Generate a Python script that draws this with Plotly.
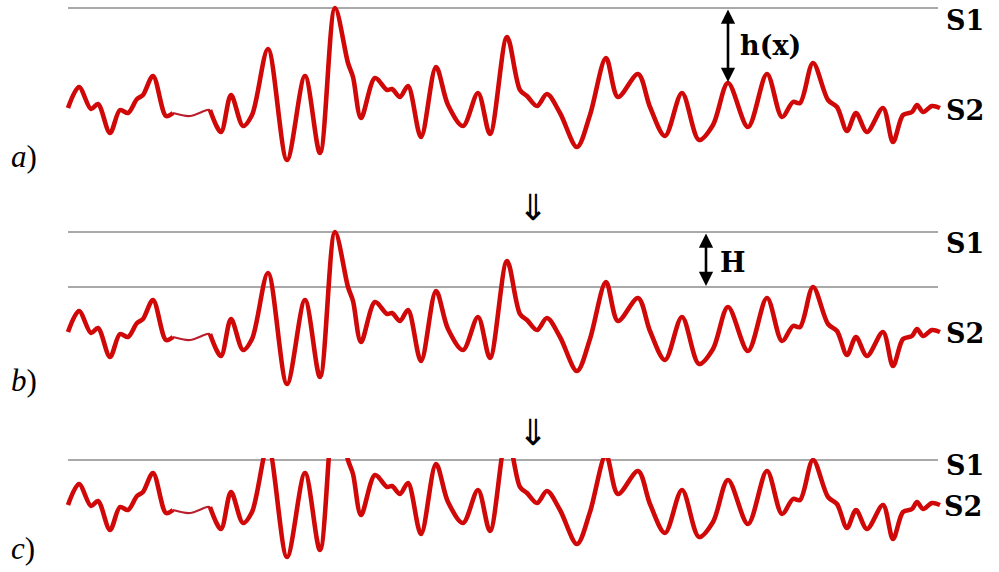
import plotly.graph_objects as go

# Surface profile: horizontal position and height above the S2 reference level
pos = [0, 11, 23, 30, 42, 52, 60, 69, 75, 85, 98, 105, 122, 139, 142, 153, 163,
       175, 184, 200, 219, 237, 252, 267, 280, 285, 293, 307, 319, 324, 332, 340,
       353, 368, 380, 395, 410, 422, 439, 452, 459, 469, 479, 492, 509, 522, 538,
       550, 570, 582, 597, 614, 631, 645, 660, 680, 699, 714, 725, 732, 745, 760,
       769, 779, 788, 799, 815, 825, 835, 844, 849, 855, 864, 872]
height = [0, 21, -1, 4, -25, -2, -5, 9, 13, 32, -8, -5, -8, -2, -2, -24, 13,
          -18, -7, 59, -52, 32, -45, 100, 45, 31, -10, 30, 18, 19, 11, 22,
          -29, 41, 3, -18, 15, -26, 71, 18, 12, 2, 14, -5, -39, -7, 50,
          11, 34, 1, -28, 15, -32, -17, 25, -19, 34, -9, 6, 5, 45, 8,
          1, -23, -5, -24, 0, -34, -7, -4, 3, -4, 2, 0]

S1 = 100          # upper surface level
H = 55            # uniform offset applied between steps
line_span = [0, 870]
h_probe_pos = 660  # where the local gap h(x) is marked
H_probe_pos = 638
flat_span = (105, 142)  # nearly flat stretch drawn with a finer stroke

RED = "rgb(208,8,8)"
RED_THIN = "rgb(185,30,45)"
GREY = "rgb(140,140,140)"
W, HGT = 999, 572


def dom(base_px, lo, hi):
    # axis domain for 1 unit = 1 px, with value v drawn at base_px - v
    return [1 - (base_px - lo) / HGT, 1 - (base_px - hi) / HGT]


fig = go.Figure()


def level(y, yaxis):
    fig.add_trace(go.Scatter(x=line_span, y=[y, y], mode="lines",
                             line=dict(color=GREY, width=1.6),
                             yaxis=yaxis, hoverinfo="skip", showlegend=False))


def profile(vals, yaxis):
    i0, i1 = pos.index(flat_span[0]), pos.index(flat_span[1])
    parts = [(0, i0 + 1, RED, 4.6), (i0, i1 + 1, RED_THIN, 2.2), (i1, len(pos), RED, 4.6)]
    for a, b, col, w in parts:
        fig.add_trace(go.Scatter(x=pos[a:b], y=vals[a:b], mode="lines",
                                 line=dict(color=col, width=w, shape="spline", smoothing=0.9),
                                 yaxis=yaxis, hoverinfo="skip", showlegend=False))


# a) original profile below S1
level(S1, "y")
profile(height, "y")
# b) S1 and the level lowered by H
level(S1, "y2")
level(S1 - H, "y2")
profile(height, "y2")
# c) profile raised by H, truncated at S1
level(S1, "y3")
profile([v + H for v in height], "y3")

hidden = dict(visible=False, fixedrange=True)
fig.update_layout(
    width=W, height=HGT,
    margin=dict(l=0, r=0, t=0, b=0),
    paper_bgcolor="white", plot_bgcolor="rgba(0,0,0,0)",
    xaxis=dict(range=[-68, 931], **hidden),
    yaxis=dict(range=[-62, 106], domain=dom(108, -62, 106), **hidden),
    yaxis2=dict(range=[-62, 106], domain=dom(332, -62, 106), **hidden),
    yaxis3=dict(range=[-10, 102], domain=dom(560, -10, 102), **hidden),
)

bold = dict(family="DejaVu Serif", size=27, color="black")
ital = dict(family="Liberation Serif", size=31, color="black")


def label(text, x, y, yref, font=bold, xanchor="left"):
    fig.add_annotation(text=text, x=x, y=y, xref="x", yref=yref, showarrow=False,
                       xanchor=xanchor, yanchor="middle", font=font)


label("<b>S1</b>", 876, 88, "y")
label("<b>S2</b>", 876, -2, "y")
label("<b>S1</b>", 876, 89, "y2")
label("<b>S2</b>", 876, -1, "y2")
label("<b>S1</b>", 876, 95, "y3")
label("<b>S2</b>", 874, 54, "y3")

label("<b>h(x)</b>", 670, 63, "y")
label("<b>H</b>", 650, 70, "y2")

# double-headed arrows for the gaps
ha = pos.index(h_probe_pos)
for x, y0, y1, ref in [(h_probe_pos, S1, height[ha], "y"),
                       (H_probe_pos, S1, S1 - H, "y2")]:
    fig.add_annotation(x=x, y=y1 + 1, ax=x, ay=y0, xref="x", yref=ref,
                       axref="x", ayref=ref, text="", showarrow=True,
                       arrowside="end+start", arrowhead=2, startarrowhead=2,
                       arrowsize=1.1, startarrowsize=1.1, arrowwidth=2.6,
                       arrowcolor="black", standoff=0, startstandoff=0)

# step markers and panel letters
for yp in [207, 432]:
    fig.add_annotation(text="⇓", x=533 / W, y=1 - yp / HGT, xref="paper", yref="paper",
                       showarrow=False, xanchor="center", yanchor="middle",
                       font=dict(family="DejaVu Sans", size=36, color="black"))
for t, yp in [("a", 156), ("b", 380), ("c", 548)]:
    fig.add_annotation(text=f"<i>{t}</i>)", x=9 / W, y=1 - yp / HGT, xref="paper",
                       yref="paper", showarrow=False, xanchor="left", yanchor="middle",
                       font=ital)

fig.write_html("out.html")
